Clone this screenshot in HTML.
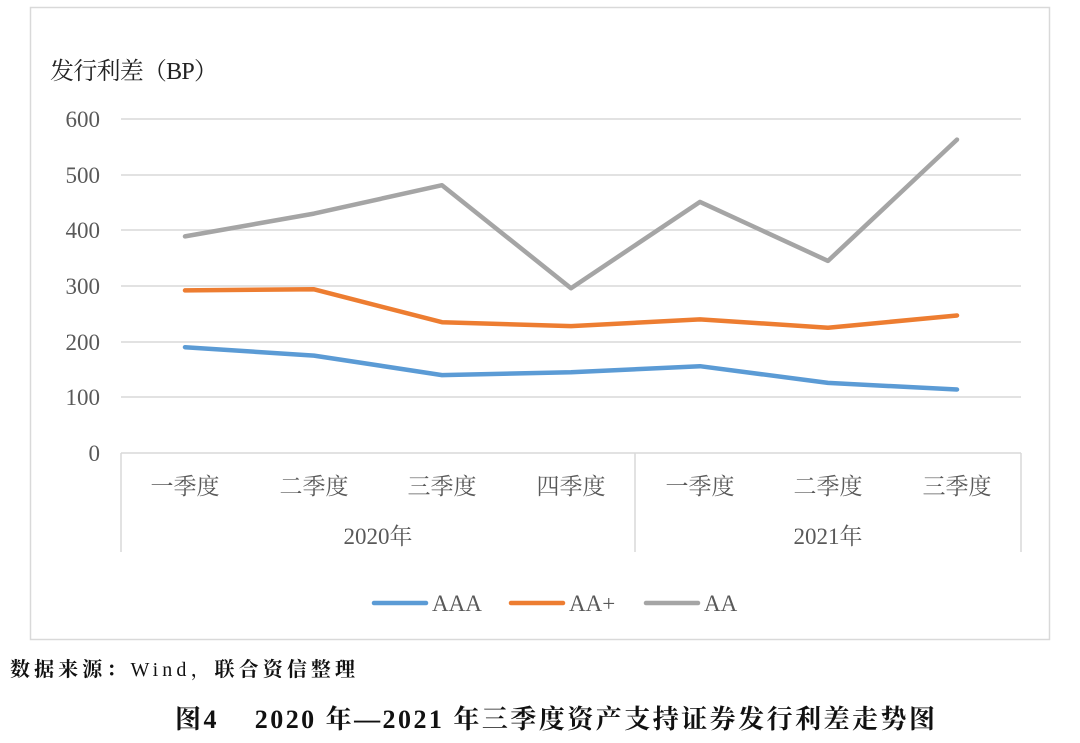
<!DOCTYPE html>
<html><head><meta charset="utf-8"><style>
html,body{margin:0;padding:0;background:#fff;}
svg{display:block}
</style></head><body>
<svg width="1080" height="743" xmlns="http://www.w3.org/2000/svg">
<rect x="30.5" y="7.5" width="1019" height="632" fill="#fff" stroke="#d9d9d9" stroke-width="1.5"/>
<g font-family="'Liberation Serif','Noto Serif CJK SC',serif" fill="#595959" font-size="23">
<text x="50" y="79" fill="#222" font-size="24" textLength="168">发行利差（BP）</text>
<text x="100" y="127" text-anchor="end">600</text>
<text x="100" y="183" text-anchor="end">500</text>
<text x="100" y="238" text-anchor="end">400</text>
<text x="100" y="294" text-anchor="end">300</text>
<text x="100" y="350" text-anchor="end">200</text>
<text x="100" y="405" text-anchor="end">100</text>
<text x="100" y="461" text-anchor="end">0</text>
</g>
<g stroke="#d9d9d9" stroke-width="1.5">
<line x1="121" y1="119" x2="1021" y2="119"/>
<line x1="121" y1="175" x2="1021" y2="175"/>
<line x1="121" y1="230" x2="1021" y2="230"/>
<line x1="121" y1="286" x2="1021" y2="286"/>
<line x1="121" y1="342" x2="1021" y2="342"/>
<line x1="121" y1="397" x2="1021" y2="397"/>
<line x1="121" y1="453" x2="1021" y2="453"/>
<line x1="121" y1="453" x2="121" y2="552"/>
<line x1="635" y1="453" x2="635" y2="552"/>
<line x1="1021" y1="453" x2="1021" y2="552"/>
</g>
<g font-family="'Liberation Serif','Noto Serif CJK SC',serif" fill="#595959" font-size="23" text-anchor="middle">
<text x="185" y="494">一季度</text>
<text x="314" y="494">二季度</text>
<text x="442" y="494">三季度</text>
<text x="571" y="494">四季度</text>
<text x="700" y="494">一季度</text>
<text x="828" y="494">二季度</text>
<text x="957" y="494">三季度</text>
<text x="378" y="544">2020年</text>
<text x="828" y="544">2021年</text>
</g>
<g fill="none" stroke-width="4.5" stroke-linejoin="round" stroke-linecap="round">
<polyline stroke="#a5a5a5" points="185,236.4 314,213.6 442,185.2 571,288.2 700,201.9 828,260.9 957,139.6"/>
<polyline stroke="#ed7d31" points="185,290.4 314,289.3 442,322.2 571,326.1 700,319.4 828,327.7 957,315.5"/>
<polyline stroke="#5b9bd5" points="185,347.2 314,355.6 442,375.1 571,372.3 700,366.2 828,382.9 957,389.5"/>
</g>
<g stroke-width="4.5" stroke-linecap="round">
<line x1="374" y1="603" x2="426" y2="603" stroke="#5b9bd5"/>
<line x1="511" y1="603" x2="563" y2="603" stroke="#ed7d31"/>
<line x1="646" y1="603" x2="698" y2="603" stroke="#a5a5a5"/>
</g>
<g font-family="'Liberation Serif','Noto Serif CJK SC',serif" fill="#595959" font-size="23">
<text x="432" y="611">AAA</text>
<text x="569" y="611">AA+</text>
<text x="704" y="611">AA</text>
</g>
<text x="10" y="676" font-family="'Liberation Serif','Noto Serif CJK SC',serif" font-size="20" fill="#111" textLength="345"><tspan font-weight="bold">数据来源：</tspan>Wind，<tspan font-weight="bold">联合资信整理</tspan></text>
<text x="175" y="728" font-family="'Liberation Serif','Noto Serif CJK SC',serif" font-size="26" font-weight="bold" fill="#111" textLength="760" xml:space="preserve">图4    2020 年—2021 年三季度资产支持证券发行利差走势图</text>
</svg>
</body></html>
